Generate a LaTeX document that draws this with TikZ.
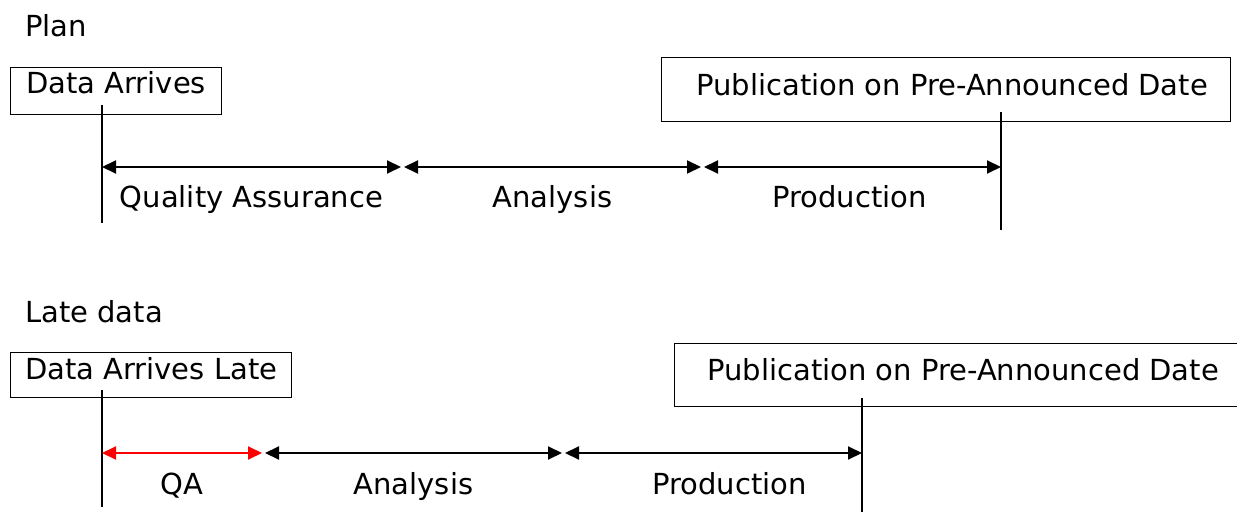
\documentclass[tikz,border=0pt]{standalone}
\usepackage{fontspec}
\setmainfont{DejaVu Sans}
\usetikzlibrary{arrows.meta}
\tikzset{
    event/.style={draw, line width=1.3pt, inner sep=0pt, anchor=north west, font=\fontsize{29}{33}\selectfont},
    heading/.style={anchor=base west, inner sep=0pt, font=\fontsize{29}{33}\selectfont},
    span/.style={line width=2pt, {Triangle[length=14pt,width=13pt]}-{Triangle[length=14pt,width=13pt]}},
    tick/.style={line width=1.6pt},
    phase/.style={midway, anchor=base, yshift=-41pt, font=\fontsize{29}{33}\selectfont}
}
\begin{document}
\begin{tikzpicture}[x=1pt, y=-1pt]
    \useasboundingbox (0,0) rectangle (1237,513);
    % plan
    \node[heading] (plan) at (25,37) {Plan};
    \node[event, minimum width=211pt, text height=26pt, text depth=21pt] (arrive) at (10,67) {Data Arrives};
    \node[event, minimum width=569pt, text height=38pt, text depth=26pt] (publish) at (661,57) {\hspace{12pt}Publication on Pre-Announced Date};
    \draw[tick] (102,105) coordinate (A) -- (102,223);
    \draw[tick] (1001,112) coordinate (D) -- (1001,230);
    \draw[span] (A |- 0,167) coordinate (A1) -- node[phase] {Quality Assurance} (401,167) coordinate (B);
    \draw[span] (404,167) -- node[phase] {Analysis} (701,167) coordinate (C);
    \draw[span] (704,167) -- node[phase, xshift=-3pt] {Production} (D |- C);
    % late data
    \node[heading] (late) at (25,322) {Late data};
    \node[event, minimum width=281pt, text height=27pt, text depth=18pt] (arrivelate) at (10,352) {Data Arrives Late};
    \node[event, minimum width=563pt, text height=37pt, text depth=26pt] (publishlate) at (674,343) {\hspace{14pt}Publication on Pre-Announced Date};
    \draw[tick] (102,390) coordinate (E) -- (102,507);
    \draw[tick] (862,398) coordinate (H) -- (862,512);
    \draw[span, red] (E |- 0,453) coordinate (E1) -- node[phase, black] {QA} (262,453) coordinate (F);
    \draw[span] (265,453) -- node[phase] {Analysis} (562,453) coordinate (G);
    \draw[span] (565,453) -- node[phase, xshift=16pt] {Production} (H |- G);
\end{tikzpicture}
\end{document}
